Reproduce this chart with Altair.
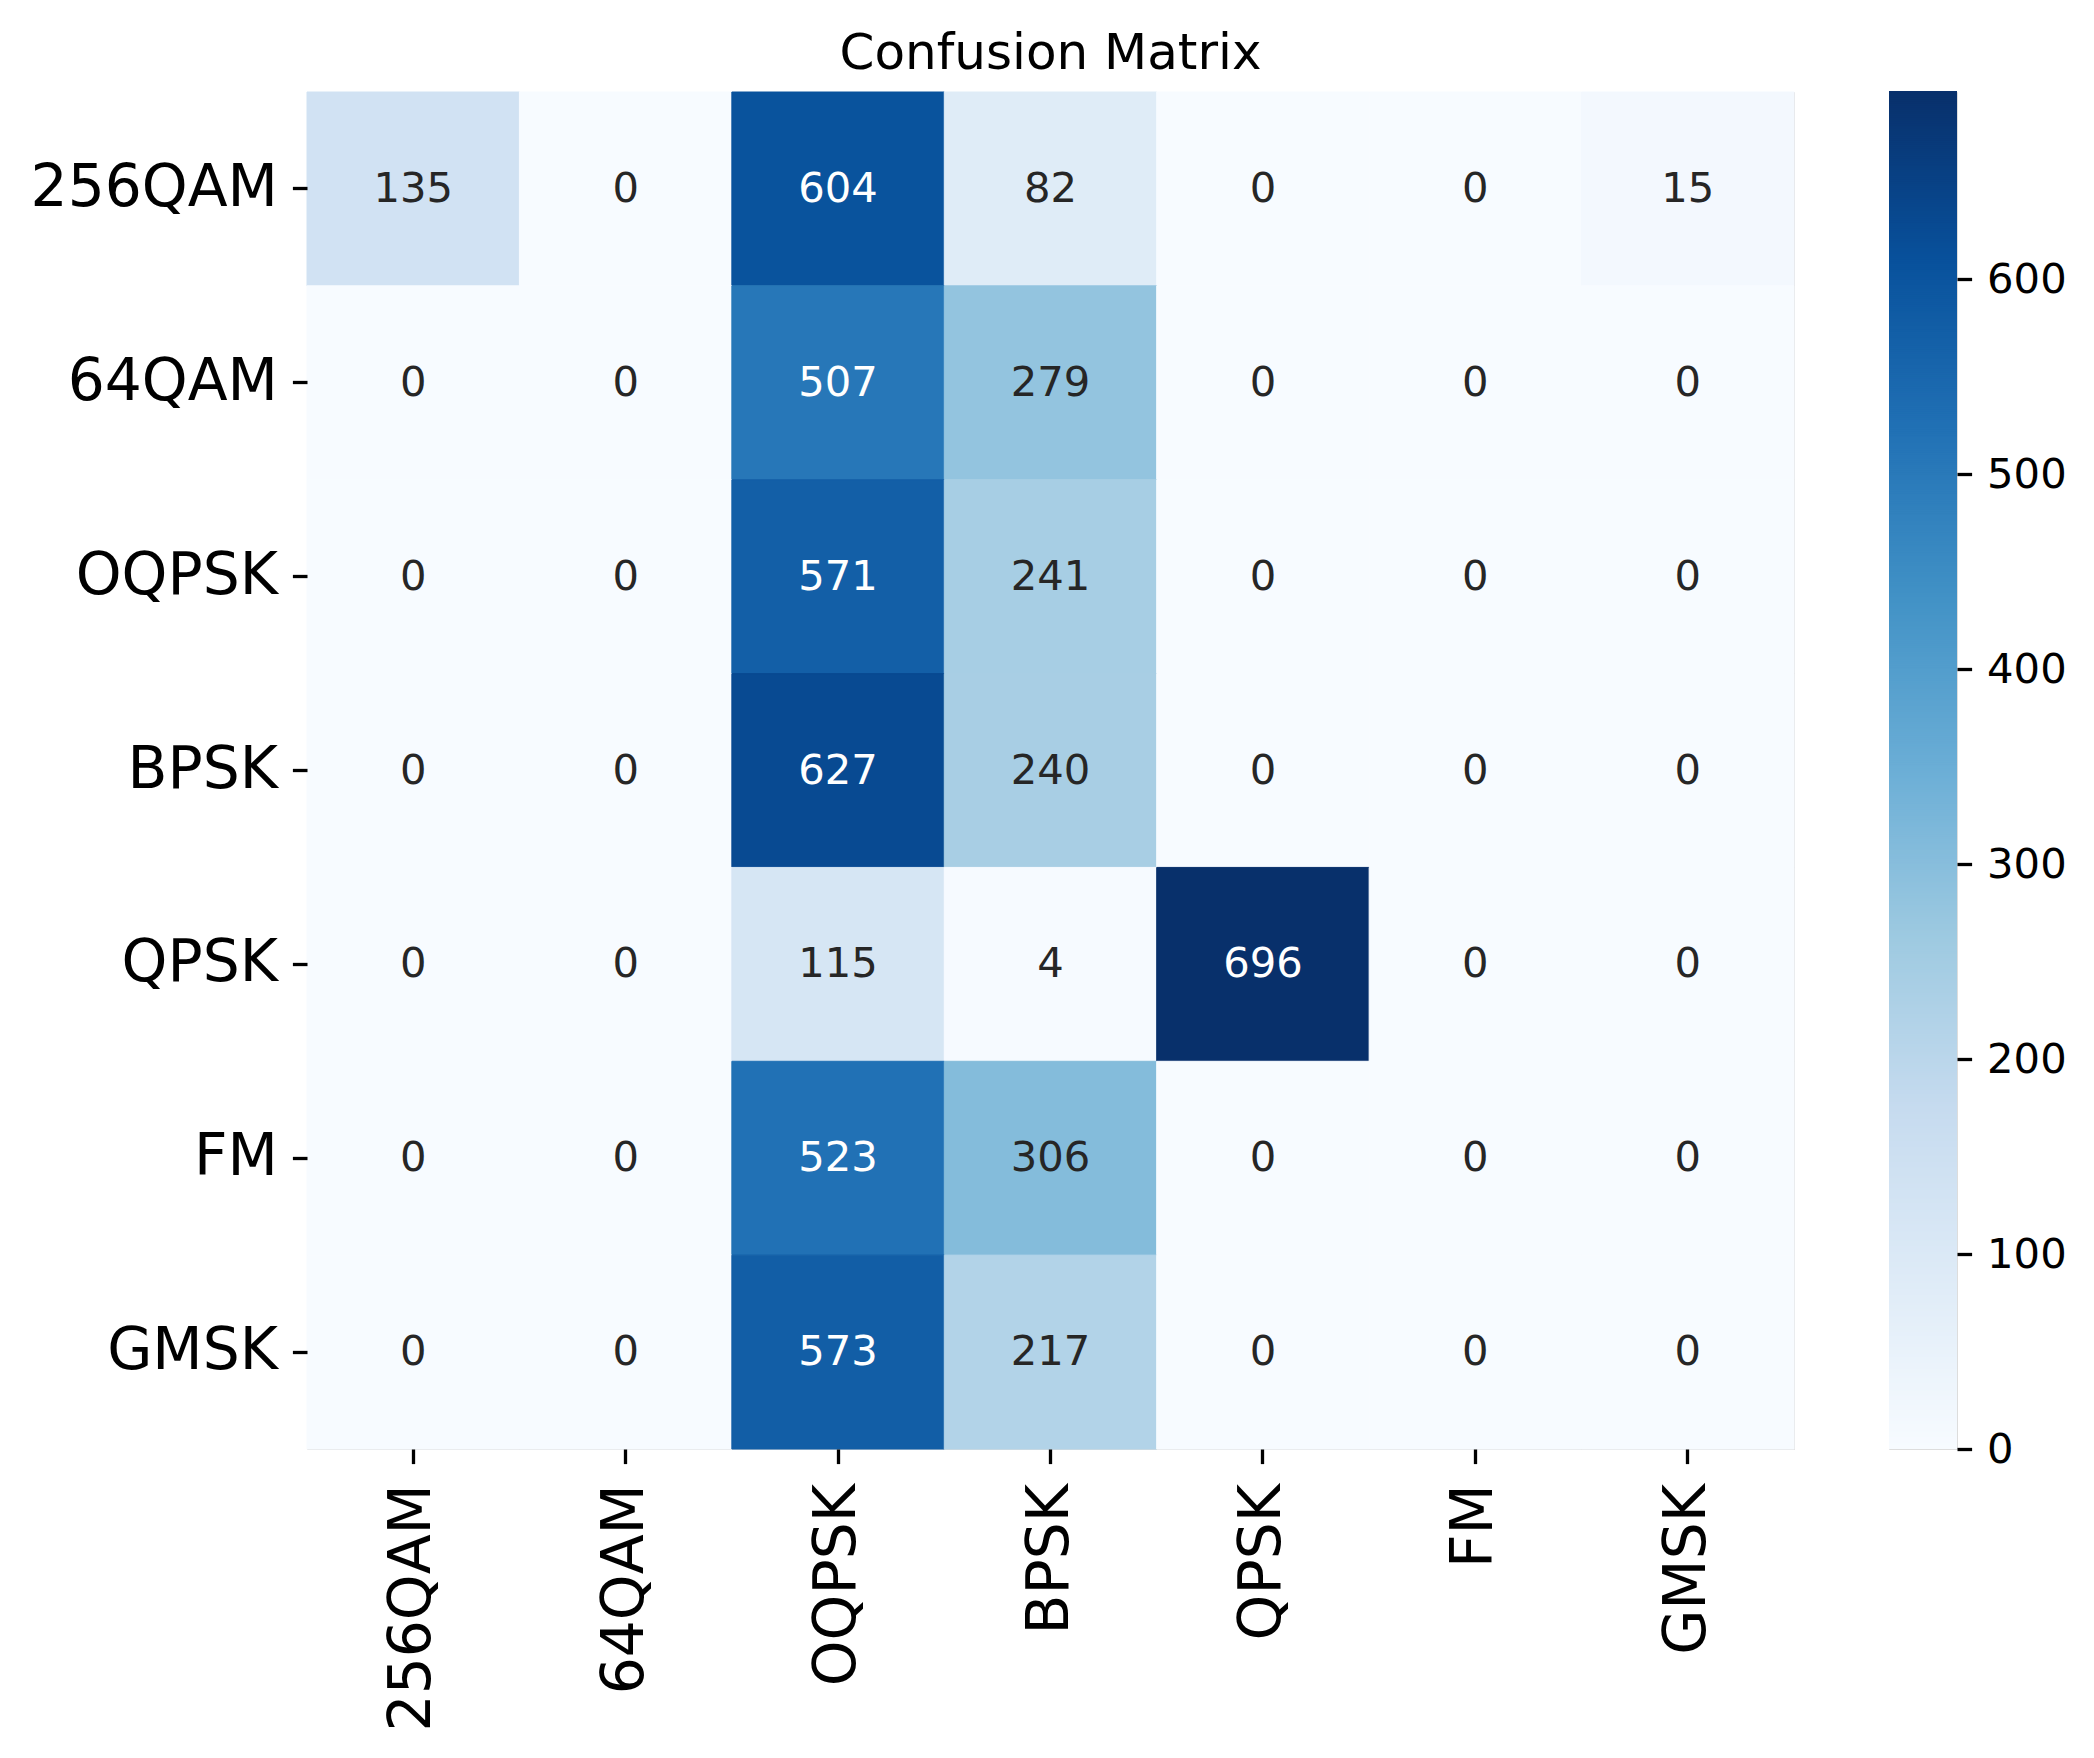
import altair as alt
import pandas as pd
import numpy as np

classes = ["256QAM", "64QAM", "OQPSK", "BPSK", "QPSK", "FM", "GMSK"]
row_256qam = [135, 0, 604, 82, 0, 0, 15]
row_64qam = [0, 0, 507, 279, 0, 0, 0]
row_oqpsk = [0, 0, 571, 241, 0, 0, 0]
row_bpsk = [0, 0, 627, 240, 0, 0, 0]
row_qpsk = [0, 0, 115, 4, 696, 0, 0]
row_fm = [0, 0, 523, 306, 0, 0, 0]
row_gmsk = [0, 0, 573, 217, 0, 0, 0]
rows = [row_256qam, row_64qam, row_oqpsk, row_bpsk, row_qpsk, row_fm, row_gmsk]
cbar_ticks = [0, 100, 200, 300, 400, 500, 600]

records = []
for i, t in enumerate(classes):
    for j, p in enumerate(classes):
        records.append({"true": t, "pred": p, "value": rows[i][j]})
df = pd.DataFrame(records)

vmax = int(df["value"].max())
blues = ["#f7fbff", "#deebf7", "#c6dbef", "#9ecae1", "#6baed6",
         "#4292c6", "#2171b5", "#08519c", "#08306b"]
cscale = alt.Scale(domain=list(np.linspace(0, vmax, len(blues))), range=blues,
                   interpolate="rgb")

FONT = "DejaVu Sans"
W, H = 1487, 1357

base = alt.Chart(df).encode(
    x=alt.X("pred:N", sort=classes, scale=alt.Scale(paddingInner=0, paddingOuter=0),
            axis=alt.Axis(title=None, orient="bottom", labelAngle=270, labelFontSize=58.3,
                          labelFont=FONT, labelColor="black", tickSize=14.6, tickWidth=3.3,
                          tickColor="black", domain=False, labelPadding=20, labelLimit=1000)),
    y=alt.Y("true:N", sort=classes, scale=alt.Scale(paddingInner=0, paddingOuter=0),
            axis=alt.Axis(title=None, labelFontSize=58.3, labelFont=FONT, labelColor="black",
                          tickSize=14.6, tickWidth=3.3, tickColor="black", domain=False,
                          labelPadding=15, labelLimit=1000)),
)
rect = base.mark_rect(strokeWidth=1).encode(
    color=alt.Color("value:Q", scale=cscale, legend=None),
    stroke=alt.Stroke("value:Q", scale=cscale, legend=None),
)
text = base.mark_text(fontSize=41.7, font=FONT).encode(
    text="value:Q",
    color=alt.condition(alt.datum.value > 400, alt.value("white"), alt.value("#262626")),
)
heat = alt.layer(rect, text).properties(
    width=W, height=H,
    title=alt.Title("Confusion Matrix", fontSize=50, font=FONT, fontWeight="normal",
                    color="black", anchor="middle", offset=13),
)

cb_v = np.arange(0, vmax)
cb_df = pd.DataFrame({"v": cb_v, "v2": cb_v + 1.5})
cbar = alt.Chart(cb_df).mark_rect(strokeWidth=0).encode(
    y=alt.Y("v:Q", scale=alt.Scale(domain=[0, vmax], nice=False, zero=True),
            axis=alt.Axis(orient="right", values=cbar_ticks, title=None, labelFontSize=41.7,
                          labelFont=FONT, labelColor="black", tickSize=14.6, tickWidth=3.3,
                          tickColor="black", domain=False, grid=False, labelPadding=15)),
    y2="v2:Q",
    x=alt.value(0), x2=alt.value(68),
    color=alt.Color("v:Q", scale=cscale, legend=None),
).properties(width=68, height=H)

chart = alt.hconcat(heat, cbar, spacing=93).properties(
    padding={"left": 21, "top": 20, "right": 0, "bottom": 0}
).configure_view(stroke=None).configure(background="white")

chart.save("out.html", embed_options={"renderer": "svg", "actions": False})
